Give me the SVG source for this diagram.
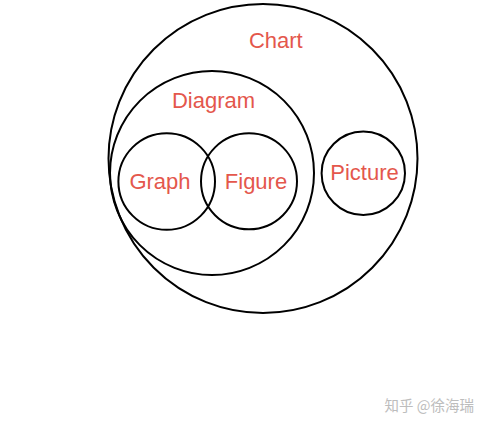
<svg xmlns="http://www.w3.org/2000/svg" width="485" height="427" viewBox="0 0 485 427">
<style>
.c{fill:none;stroke:#000;stroke-width:2}
.t{font-family:"Liberation Sans",Arial,sans-serif;font-size:22px;fill:#e4574c;text-anchor:middle}
.w{font-family:"Noto Sans CJK SC","Liberation Sans",sans-serif;font-size:14.5px;fill:#bdbdbd;text-anchor:end}
</style>
<rect width="485" height="427" fill="#fff"/>
<g id="chart"><circle class="c" cx="263" cy="158.5" r="154.5"/><text class="t" x="275.8" y="48">Chart</text></g>
<g id="diagram"><circle class="c" cx="212" cy="173" r="102"/><text class="t" x="213.5" y="108">Diagram</text></g>
<g id="graph"><circle class="c" cx="166.7" cy="181.5" r="48.3"/><text class="t" x="160" y="189">Graph</text></g>
<g id="figure"><circle class="c" cx="249" cy="181.3" r="48"/><text class="t" x="256" y="189">Figure</text></g>
<g id="picture"><circle class="c" cx="363.3" cy="173.3" r="41.7"/><text class="t" x="364.5" y="180">Picture</text></g>
<g id="connectors"></g>
<text class="w" x="474" y="411">知乎 @徐海瑞</text>
</svg>
